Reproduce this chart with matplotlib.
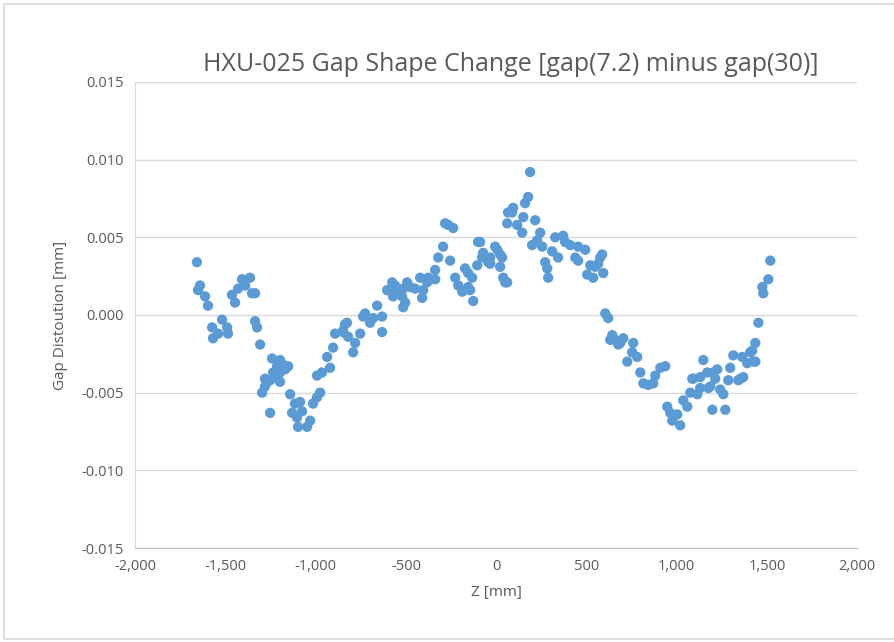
import matplotlib.pyplot as plt
from matplotlib.patches import Rectangle
from matplotlib.ticker import FuncFormatter, MultipleLocator

# Z position [mm] and gap change [mm]
z_mm = [
    -1657, -1640, -1651, -1612, -1596, -1573, -1568, -1540, -1518, -1490,
    -1485, -1463, -1446, -1429, -1407, -1390, -1363, -1352, -1335, -1335,
    -1324, -1307, -1241, -1197, -1180, -1152, -1213, -1235, -1197, -1252,
    -1269, -1197, -1280, -1296, -1252, -1141, -1114, -1086, -1130, -1103,
    -1075, -1097, -1047, -1030, -1014, -992, -975, -992, -964, -920,
    -936, -903, -892, -848, -826, -1169, -1224, -1280,
    -837, -848, -820, -781, -792, -753, -737, -698, -681, -659,
    -632, -632, -604, -576, -571, -549, -521, -515, -504, -493,
    -476, -449, -421, -410, -404, -382, -377, -338, -338, -321,
    -294, -255, -283, -266, -238, -227, -210, -188, -172, -155,
    -133, -155, -144, -127, -105, -100, -72, -44, -6, 6,
    33, 22, 39, 50, 61, 66, -560, -515, -726, -33, 22,
    -89, -78, -33, 61, 188, 177, 160, 94, 88, 150,
    116, 144, 216, 244, 227, 199, 255, 271, 283, 288,
    310, 327, 343, 371, 382, 410, 438, 454, 493, 454,
    504, 537, 521, 549, 576, 565, 593, 604, 620, 643,
    659, 704, 687, 759,
    587, 632, 676, 753, 781, 726, 798, 815, 842, 870,
    881, 909, 936, 947, 964, 975, 1019, 1003, 1036, 1058,
    1086, 1075, 1114, 1130, 1147, 1169, 1175, 1197, 1213, 1224,
    1241, 1258, 1269, 1285, 1296, 1313, 1341, 1363, 1368, 1390,
    1407, 1424, 1435, 1452, 1474, 1479, 1507, 1518,
    1202, 1091, 1352, 1186, 1130, 1418, 1435,
]
gap_change = [
    0.0034, 0.0019, 0.0016, 0.0012, 0.0006, -0.0008, -0.0015, -0.0012, -0.0003, -0.0008,
    -0.0012, 0.0013, 0.0008, 0.0017, 0.0023, 0.0019, 0.0024, 0.0014, 0.0014, -0.0004,
    -0.0008, -0.0019, -0.0028, -0.0029, -0.0032, -0.0033, -0.0033, -0.0037, -0.0037, -0.0042,
    -0.0043, -0.0043, -0.0046, -0.0050, -0.0063, -0.0051, -0.0057, -0.0056, -0.0063, -0.0066,
    -0.0062, -0.0072, -0.0072, -0.0068, -0.0057, -0.0053, -0.0050, -0.0039, -0.0037, -0.0034,
    -0.0027, -0.0021, -0.0012, -0.0010, -0.0005, -0.0035, -0.0039, -0.0041,
    -0.0006, -0.0011, -0.0014, -0.0018, -0.0024, -0.0012, -0.0001, -0.0005, -0.0002, 0.0006,
    -0.0001, -0.0011, 0.0016, 0.0021, 0.0012, 0.0016, 0.0012, 0.0005, 0.0008, 0.0021,
    0.0018, 0.0017, 0.0024, 0.0011, 0.0016, 0.0021, 0.0024, 0.0023, 0.0029, 0.0037,
    0.0044, 0.0035, 0.0059, 0.0058, 0.0056, 0.0024, 0.0019, 0.0015, 0.0030, 0.0027,
    0.0024, 0.0018, 0.0016, 0.0009, 0.0032, 0.0047, 0.0040, 0.0034, 0.0044, 0.0042,
    0.0037, 0.0031, 0.0024, 0.0021, 0.0059, 0.0066, 0.0019, 0.0017, 0.0001, 0.0037, 0.0039,
    0.0047, 0.0037, 0.0033, 0.0021, 0.0092, 0.0076, 0.0072, 0.0069, 0.0066, 0.0063,
    0.0058, 0.0053, 0.0061, 0.0053, 0.0048, 0.0045, 0.0044, 0.0034, 0.0030, 0.0024,
    0.0041, 0.0050, 0.0037, 0.0051, 0.0047, 0.0045, 0.0037, 0.0044, 0.0042, 0.0035,
    0.0026, 0.0024, 0.0032, 0.0031, 0.0037, 0.0033, 0.0027, 0.0001, -0.0002, -0.0013,
    -0.0016, -0.0015, -0.0018, -0.0018,
    0.0039, -0.0016, -0.0019, -0.0024, -0.0027, -0.0030, -0.0037, -0.0044, -0.0045, -0.0044,
    -0.0039, -0.0034, -0.0033, -0.0059, -0.0063, -0.0068, -0.0071, -0.0064, -0.0055, -0.0059,
    -0.0041, -0.0050, -0.0051, -0.0040, -0.0029, -0.0037, -0.0047, -0.0061, -0.0041, -0.0035,
    -0.0048, -0.0051, -0.0061, -0.0042, -0.0034, -0.0026, -0.0042, -0.0027, -0.0040, -0.0031,
    -0.0024, -0.0030, -0.0018, -0.0005, 0.0018, 0.0014, 0.0023, 0.0035,
    -0.0037, -0.0041, -0.0041, -0.0046, -0.0047, -0.0023, -0.0030,
]

plt.rcParams["font.family"] = ["Open Sans", "DejaVu Sans"]

fig = plt.figure(figsize=(8.94, 6.42), dpi=100)
ax = fig.add_axes([0.151, 0.1464, 0.808, 0.7259])

# chart-area frame
fig.patches.append(Rectangle((0.005, 0.004), 1.2, 0.99, transform=fig.transFigure,
                             fill=False, edgecolor="#d9d9d9", linewidth=1.2))

ax.scatter(z_mm, gap_change, s=55, color="#5b9bd5", edgecolors="none", zorder=3)

ax.set_xlim(-2000, 2000)
ax.set_ylim(-0.015, 0.015)
ax.xaxis.set_major_locator(MultipleLocator(500))
ax.yaxis.set_major_locator(MultipleLocator(0.005))
ax.xaxis.set_major_formatter(FuncFormatter(lambda v, p: f"{v:,.0f}"))
ax.yaxis.set_major_formatter(FuncFormatter(lambda v, p: f"{v:.3f}"))

ax.grid(axis="y", color="#d9d9d9", linewidth=1)
ax.set_axisbelow(True)
for side in ("top", "right"):
    ax.spines[side].set_visible(False)
ax.spines["left"].set_color("#d9d9d9")
ax.spines["bottom"].set_color("#bfbfbf")
ax.tick_params(length=0, labelsize=10.5, colors="#595959", pad=8)

ax.set_title("HXU-025 Gap Shape Change [gap(7.2) minus gap(30)]",
             fontsize=18, color="#595959", pad=8, x=0.52)
ax.set_xlabel("Z [mm]", fontsize=11, color="#595959", labelpad=8)
ax.set_ylabel("Gap Distoution [mm]", fontsize=11, color="#595959", labelpad=10)

fig.savefig("out.png", dpi=100)
